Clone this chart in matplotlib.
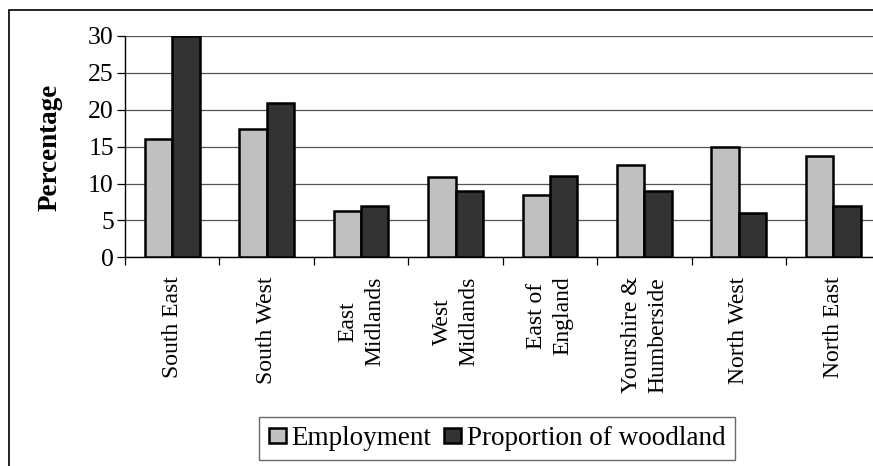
import matplotlib.pyplot as plt
from matplotlib.patches import Rectangle
import numpy as np

regions = ["South East", "South West", "East\nMidlands", "West\nMidlands",
           "East of\nEngland", "Yourshire &\nHumberside", "North West", "North East"]
employment = [16.0, 17.4, 6.3, 10.85, 8.45, 12.5, 14.9, 13.75]
woodland = [30.0, 20.9, 7.0, 9.0, 11.0, 9.0, 6.05, 7.0]
yticks = [0, 5, 10, 15, 20, 25, 30]

SERIF = "Liberation Serif"

W, H = 873, 466
fig = plt.figure(figsize=(W / 100, H / 100), dpi=100)

# outer chart border (right and bottom edges are cropped in the original)
fig.patches.append(Rectangle((9 / W, -0.1), 1.2, 1 - 10 / H + 0.1,
                             transform=fig.transFigure, fill=False,
                             edgecolor="black", linewidth=1.2))

# plot area
left, right, top, bottom = 125, 880.5, 36, 257.3
ax = fig.add_axes([left / W, 1 - bottom / H, (right - left) / W, (bottom - top) / H])

x = np.arange(len(regions)) + 0.5
bw = 0.29
ax.bar(x - bw / 2, employment, bw, color="#c0c0c0", edgecolor="black",
       linewidth=1.8, label="Employment", zorder=3)
ax.bar(x + bw / 2, woodland, bw, color="#333333", edgecolor="black",
       linewidth=1.8, label="Proportion of woodland", zorder=3)

ax.set_xlim(0, len(regions))
ax.set_ylim(0, 30)
ax.set_yticks(yticks)
ax.set_yticklabels([str(v) for v in yticks], fontfamily=SERIF, fontsize=18.5)
ax.yaxis.grid(True, color="#555555", linewidth=0.9, zorder=0)

# ticks at category boundaries, labels at centres
ax.set_xticks(np.arange(len(regions) + 1))
ax.set_xticklabels([])
ax.set_xticks(x, minor=True)
ax.set_xticklabels(regions, minor=True, rotation=90, fontfamily=SERIF, fontsize=17,
                   va="top", ha="center", multialignment="center", linespacing=1.35)
ax.tick_params(axis="x", which="major", direction="out", length=6, width=0.9)
ax.tick_params(axis="x", which="minor", length=0, pad=14)
ax.tick_params(axis="y", direction="out", length=6, width=0.9, pad=2)

for s in ["top", "right"]:
    ax.spines[s].set_visible(False)
ax.spines["left"].set_linewidth(1.0)
ax.spines["bottom"].set_linewidth(1.0)

fig.text(50 / W, 1 - 147 / H, "Percentage", rotation=90, fontfamily=SERIF,
         fontweight="bold", fontsize=19.5, ha="center", va="center")

leg = fig.legend(loc="center", bbox_to_anchor=(497 / W, 1 - 438.5 / H), ncol=2,
                 prop={"family": SERIF, "size": 19.5}, frameon=True, fancybox=False,
                 handlelength=0.65, handleheight=0.5, handletextpad=0.2,
                 columnspacing=0.45, borderpad=0.35, borderaxespad=0)
leg.get_frame().set_edgecolor("#444444")
leg.get_frame().set_linewidth(1.0)

fig.savefig("out.png", dpi=100)
